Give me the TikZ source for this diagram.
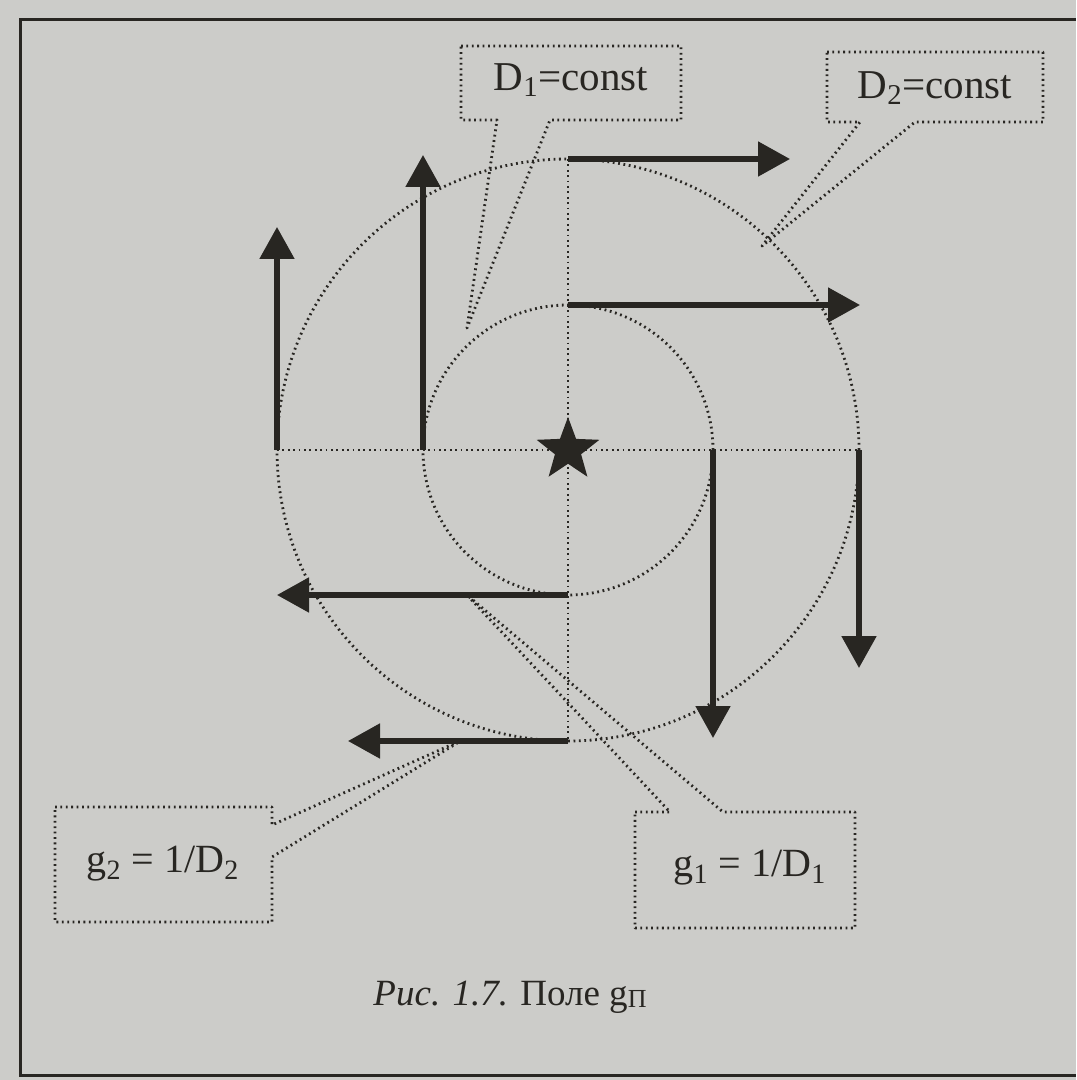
\documentclass[tikz,border=0pt]{standalone}
\usepackage{fontspec}
\setmainfont{Liberation Serif}
\usetikzlibrary{arrows.meta,shapes.geometric}
\definecolor{paper}{RGB}{204,204,201}
\definecolor{ink}{RGB}{40,38,34}
\tikzset{
	dots/.style={ink, line width=1.4pt, line join=round, dash pattern=on 0.9pt off 1.8pt},
	vec/.style={ink, line width=2.6pt, -{Triangle[length=16pt,width=17pt]}},
	lbl/.style={text=ink, inner sep=0pt},
}

\begin{document}
\begin{tikzpicture}[x=0.5pt, y=-0.5pt]
			
			\fill[paper] (0,0) rectangle (1076,1080);
			\useasboundingbox (0,0) rectangle (1076,1080);
			\draw[ink, line width=1.5pt] (1076,20) -- (20,20) -- (20,1075) -- (1076,1075);
			
			\def\ri{72.5pt}
			\def\ro{145.5pt}
			\coordinate (O) at (568,450);
			
			\coordinate (ti) at (568,305);
\coordinate (bi) at (568,595);
\coordinate (li) at (423,450);
\coordinate (ri) at (713,450);
\coordinate (to) at (568,159);
\coordinate (bo) at (568,741);
\coordinate (lo) at (277,450);
\coordinate (ro) at (859,450);

			
			\draw[dots] (O) circle[radius=\ri];
			\draw[dots] (O) circle[radius=\ro];
			\draw[dots] (lo) -- (ro);
			\draw[dots] (to) -- (bo);
			
			\draw[vec] (to) -- (790,159);
\draw[vec] (ti) -- (860,305);
\draw[vec] (ro) -- (859,668);
\draw[vec] (ri) -- (713,738);
\draw[vec] (bi) -- (277,595);
\draw[vec] (bo) -- (348,741);
\draw[vec] (lo) -- (277,227);
\draw[vec] (li) -- (423,155);

			
			\node[star, star points=5, star point ratio=2.4, fill=ink, minimum size=33pt, inner sep=0pt] (src) at (O) {};
			
			\draw[dots] (461,46) -- (681,46) -- (681,120) -- (550,120) -- (467,328) -- (497,120) -- (461,120) -- cycle;
			\draw[dots] (827,52) -- (1043,52) -- (1043,122) -- (915,122) -- (762,246) -- (860,122) -- (827,122) -- cycle;
			\draw[dots] (55,807) -- (272,807) -- (272,825) -- (462,740) -- (272,857) -- (272,922) -- (55,922) -- cycle;
			\draw[dots] (635,812) -- (670,812) -- (467,595) -- (723,812) -- (855,812) -- (855,928) -- (635,928) -- cycle;
			
			\node[lbl, font=\fontsize{20.5}{24}\selectfont] (d1) at (571,80) {D\textsubscript{1}=const};
			\node[lbl, font=\fontsize{20.5}{24}\selectfont] (d2) at (935,88) {D\textsubscript{2}=const};
			\node[lbl, font=\fontsize{20}{24}\selectfont] (g2) at (163,864) {g\textsubscript{2} = 1/D\textsubscript{2}};
			\node[lbl, font=\fontsize{20}{24}\selectfont] (g1) at (750,868) {g\textsubscript{1} = 1/D\textsubscript{1}};
			
			\node[lbl, font=\fontsize{18.5}{22}\selectfont] (cap) at (510,997) {\textit{Рис. 1.7.} Поле g{\fontsize{13}{15}\selectfont\raisebox{-0.2ex}{П}}};
			
		\end{tikzpicture}
\end{document}
